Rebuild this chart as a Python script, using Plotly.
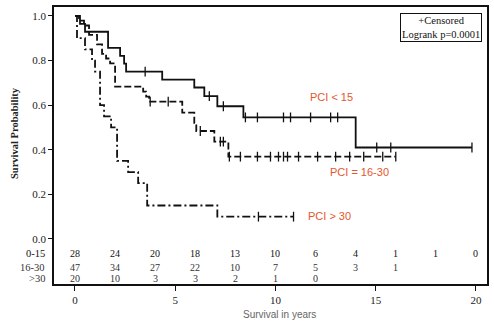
import plotly.graph_objects as go

# ---- data ----
low_times = [0, 0.25, 0.5, 1.65, 2.25, 2.45, 2.55, 4.35, 5.95, 6.45, 7.1, 8.4, 14.0]
low_surv = [1.0, 0.964, 0.929, 0.857, 0.821, 0.786, 0.750, 0.714, 0.679, 0.640, 0.595, 0.545, 0.41]
low_end = 19.8
low_censor = [3.5, 6.7, 7.4, 8.5, 9.1, 10.4, 10.75, 11.75, 12.75, 13.1, 15.05, 15.75, 19.8]

mid_times = [0, 0.2, 0.45, 0.7, 1.1, 1.35, 1.55, 1.75, 2.0, 3.4, 3.55, 3.7, 5.35, 5.95, 6.05, 6.95, 7.65]
mid_surv = [1.0, 0.979, 0.957, 0.915, 0.872, 0.83, 0.809, 0.787, 0.683, 0.661, 0.638, 0.616, 0.566, 0.52, 0.484, 0.436, 0.369]
mid_end = 16.0
mid_censor = [3.75, 4.65, 6.25, 7.25, 7.4, 7.7, 8.25, 9.1, 9.75, 10.15, 10.4, 10.6, 11.15, 12.1, 13.0, 13.7, 14.4, 15.35, 16.0]

high_times = [0, 0.1, 0.5, 0.85, 1.0, 1.25, 1.45, 1.8, 2.1, 2.65, 3.15, 3.6, 7.1]
high_surv = [1.0, 0.90, 0.85, 0.80, 0.75, 0.60, 0.55, 0.50, 0.35, 0.30, 0.25, 0.15, 0.10]
high_end = 10.9
high_censor = [9.15, 10.9]

risk_times = [0, 2, 4, 6, 8, 10, 12, 14, 16, 18, 20]
risk_labels = ["0-15", "16-30", ">30"]
risk_low = [28, 24, 20, 18, 13, 10, 6, 4, 1, 1, 0]
risk_mid = [47, 34, 27, 22, 10, 7, 5, 3, 1]
risk_high = [20, 10, 3, 3, 2, 1, 0]

x_ticks = [0, 5, 10, 15, 20]
y_ticks = [0.0, 0.2, 0.4, 0.6, 0.8, 1.0]
y_ticktext = ["0.0", "0.2", "0.4", "0.6", "0.8", "1.0"]

group_labels = ["PCI < 15", "PCI = 16-30", "PCI > 30"]


def surv_at(times, surv, t):
    s = surv[0]
    for ti, si in zip(times, surv):
        if ti <= t:
            s = si
    return s


W, H = 494, 321
L, R, T, B = 54, 7, 7, 37
pw, ph = W - L - R, H - T - B


def px_to_paper(x, y):
    return (x - L) / pw, 1 - (y - T) / ph


fig = go.Figure()
curves = [
    (low_times, low_surv, low_end, low_censor, "solid"),
    (mid_times, mid_surv, mid_end, mid_censor, "7px,3px"),
    (high_times, high_surv, high_end, high_censor, "8px,3px,2px,3px"),
]
for times, surv, end, cens, dash in curves:
    xs = list(times) + [end]
    ys = list(surv) + [surv[-1]]
    fig.add_trace(go.Scatter(x=xs, y=ys, mode="lines", line=dict(shape="hv", color="#111", width=1.8, dash=dash),
                             showlegend=False, hoverinfo="skip"))
    fig.add_trace(go.Scatter(x=cens, y=[surv_at(times, surv, c) for c in cens], mode="markers",
                             marker=dict(symbol="line-ns-open", size=7, color="#111",
                                         line=dict(color="#111", width=1.3)),
                             showlegend=False, hoverinfo="skip"))

serif = "Liberation Serif, Times New Roman, serif"
sans = "Liberation Sans, Arial, sans-serif"

annotations = []
# group labels
for txt, (tx, ty) in zip(group_labels, [(12.8, 0.635), (14.2, 0.30), (12.7, 0.103)]):
    annotations.append(dict(x=tx, y=ty, xref="x", yref="y", text=txt, showarrow=False,
                            xanchor="center", yanchor="middle",
                            font=dict(family=sans, size=11, color="#e4572e")))

# risk table
rows = [risk_low, risk_mid, risk_high]
row_y = [-0.067, -0.126, -0.176]
row_colors = ["#111", "#333", "#333"]
for lab, vals, yy, col in zip(risk_labels, rows, row_y, row_colors):
    annotations.append(dict(x=0, y=yy, xref="paper", yref="y", text=lab, showarrow=False, xanchor="right",
                            yanchor="middle", xshift=-7, font=dict(family=serif, size=10.5, color=col)))
    for t, v in zip(risk_times, vals):
        annotations.append(dict(x=t, y=yy, xref="x", yref="y", text=str(v), showarrow=False,
                                xanchor="center", yanchor="middle",
                                font=dict(family=serif, size=10, color=col)))

# legend box
lx, ly = px_to_paper(440.5, 27)
annotations.append(dict(x=lx, y=ly, xref="paper", yref="paper", text="+Censored<br>Logrank p=0.0001",
                        showarrow=False, align="center", xanchor="center", yanchor="middle",
                        bordercolor="#111", borderwidth=1, borderpad=1,
                        bgcolor="white", font=dict(family=serif, size=10.5, color="#111")))

# axis titles
ax, ay = px_to_paper(14, 133)
annotations.append(dict(x=ax, y=ay, xref="paper", yref="paper", text="<b>Survival Probability</b>",
                        showarrow=False, textangle=-90, xanchor="center", yanchor="middle",
                        font=dict(family=serif, size=10.5, color="#222")))
bx, by = px_to_paper(279, 314)
annotations.append(dict(x=bx, y=by, xref="paper", yref="paper", text="Survival in years", showarrow=False,
                        xanchor="center", yanchor="middle",
                        font=dict(family=sans, size=10, color="#666")))

fig.update_layout(
    width=W, height=H, margin=dict(l=L, r=R, t=T, b=B, autoexpand=False),
    paper_bgcolor="white", plot_bgcolor="white",
    annotations=annotations,
    xaxis=dict(range=[-1.047, 20.55], tickvals=x_ticks, showgrid=False, zeroline=False, showline=True,
               linecolor="#111", linewidth=1.8, mirror=True, ticks="outside", ticklen=5, tickcolor="#111",
               tickfont=dict(family=serif, size=11, color="#222"), automargin=False),
    yaxis=dict(range=[-0.202, 1.040], tickvals=y_ticks, ticktext=y_ticktext, showgrid=False, zeroline=False,
               showline=True, linecolor="#111", linewidth=1.8, mirror=True, ticks="outside", ticklen=4,
               tickcolor="#111", tickfont=dict(family=serif, size=11, color="#222"), automargin=False),
)
fig.write_html("out.html", config={"responsive": False, "displayModeBar": False},
               post_script="document.body.style.margin='0';document.body.style.padding='0';")
